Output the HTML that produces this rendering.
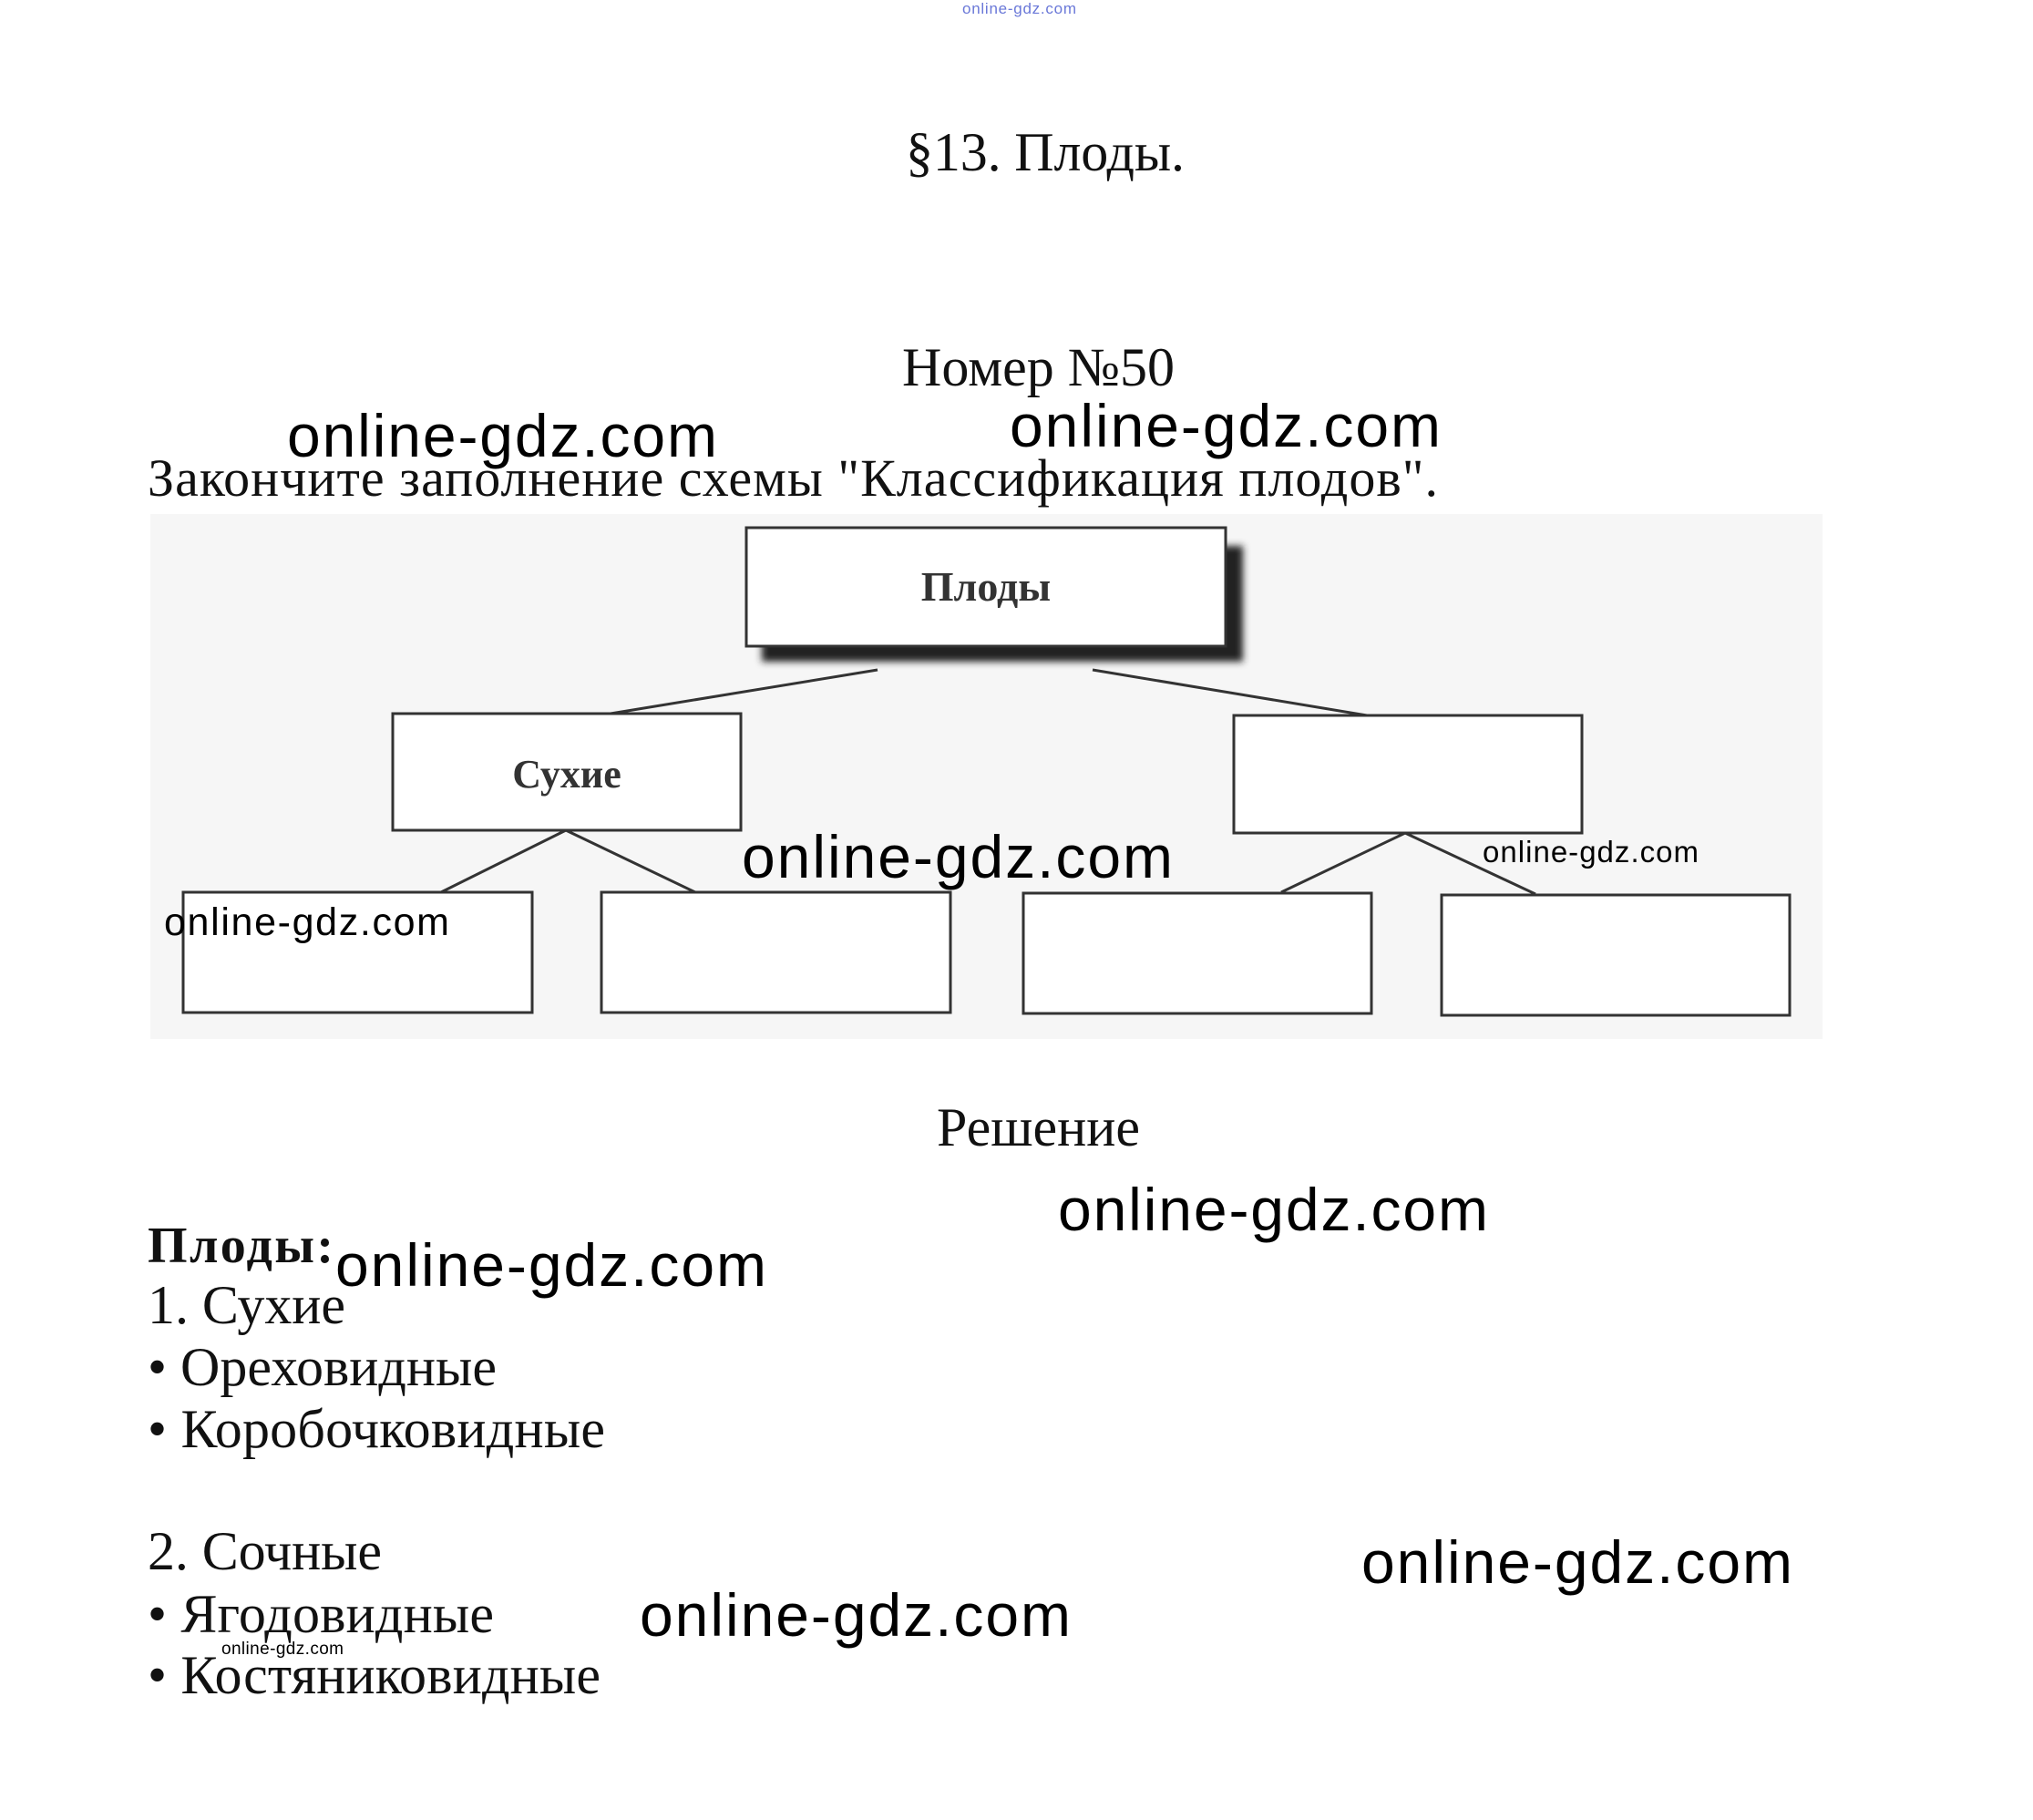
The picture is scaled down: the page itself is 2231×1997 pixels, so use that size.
<!DOCTYPE html>
<html><head><meta charset="utf-8"><style>
html,body{margin:0;padding:0;background:#fff;}
svg{display:block;}
.s{font-family:"Liberation Serif","DejaVu Serif",serif;fill:#111;}
.w{font-family:"Liberation Sans","DejaVu Sans",sans-serif;fill:#000;}
</style></head><body>
<svg width="2231" height="1997" viewBox="0 0 2231 1997" xmlns="http://www.w3.org/2000/svg">
<defs><filter id="bl" x="-10%" y="-30%" width="120%" height="160%"><feGaussianBlur stdDeviation="4"/></filter></defs>
<rect width="2231" height="1997" fill="#fff"/>
<g transform="translate(-2,-1)">
<text class="w" x="1058" y="16" font-size="17" textLength="125" style="fill:#6a78d8">online-gdz.com</text>

<text class="s" x="996" y="188" font-size="60" textLength="306">§13. Плоды.</text>
<text class="s" x="992" y="424" font-size="60" textLength="299">Номер №50</text>
<text class="s" x="164" y="545" font-size="58" textLength="1416">Закончите заполнение схемы "Классификация плодов".</text>

<rect x="167" y="565" width="1835" height="576" fill="#f6f6f6"/>
<rect x="838" y="600" width="528" height="127" fill="#222" filter="url(#bl)"/>
<rect x="821" y="580" width="526" height="130" fill="#fff" stroke="#333" stroke-width="3"/>
<text class="s" x="1084" y="660" font-size="46" font-weight="bold" text-anchor="middle" style="fill:#333">Плоды</text>
<g stroke="#333" stroke-width="3" fill="none">
<line x1="965" y1="736" x2="672" y2="784"/>
<line x1="1201" y1="736" x2="1502" y2="786"/>
<line x1="623" y1="912" x2="486" y2="980"/>
<line x1="623" y1="912" x2="765" y2="980"/>
<line x1="1544" y1="915" x2="1408" y2="980"/>
<line x1="1544" y1="915" x2="1687" y2="982"/>
<rect x="433" y="784" width="382" height="128" fill="#fff"/>
<rect x="1356" y="786" width="382" height="129" fill="#fff"/>
<rect x="203" y="980" width="383" height="132" fill="#fff"/>
<rect x="662" y="980" width="383" height="132" fill="#fff"/>
<rect x="1125" y="981" width="382" height="132" fill="#fff"/>
<rect x="1584" y="983" width="382" height="132" fill="#fff"/>
</g>
<text class="s" x="624" y="865" font-size="44" font-weight="bold" text-anchor="middle" style="fill:#333">Сухие</text>

<text class="s" x="1030" y="1258" font-size="60" textLength="223">Решение</text>
<text class="s" x="164" y="1386" font-size="56" font-weight="bold" textLength="204">Плоды:</text>
<text class="s" x="164" y="1453" font-size="60" textLength="217">1. Сухие</text>
<text class="s" x="164" y="1521" font-size="60" textLength="383">• Ореховидные</text>
<text class="s" x="164" y="1589" font-size="60" textLength="502">• Коробочковидные</text>
<text class="s" x="164" y="1723" font-size="60" textLength="257">2. Сочные</text>
<text class="s" x="164" y="1792" font-size="60" textLength="380">• Ягодовидные</text>
<text class="s" x="164" y="1859" font-size="60" textLength="497">• Костяниковидные</text>

<g font-size="66">
<text class="w" x="317" y="502" textLength="472">online-gdz.com</text>
<text class="w" x="1110" y="491" textLength="473">online-gdz.com</text>
<text class="w" x="816" y="964" textLength="473">online-gdz.com</text>
<text class="w" x="1163" y="1351" textLength="472">online-gdz.com</text>
<text class="w" x="370" y="1412" textLength="473">online-gdz.com</text>
<text class="w" x="1496" y="1738" textLength="473">online-gdz.com</text>
<text class="w" x="704" y="1796" textLength="473">online-gdz.com</text>
</g>
<text class="w" x="1629" y="947" font-size="33" textLength="237">online-gdz.com</text>
<text class="w" x="182" y="1027" font-size="43" textLength="313">online-gdz.com</text>
<text class="w" x="245" y="1816" font-size="19" textLength="134">online-gdz.com</text>
</g>
</svg>
</body></html>
